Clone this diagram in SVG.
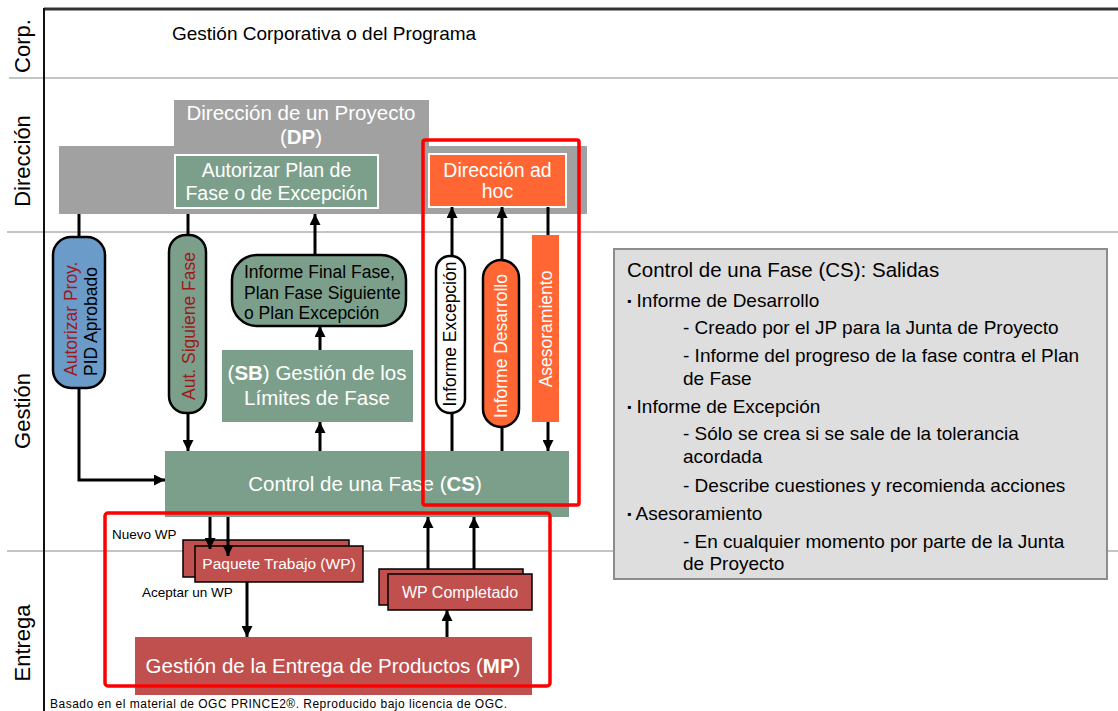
<svg xmlns="http://www.w3.org/2000/svg" width="1118" height="711" viewBox="0 0 1118 711">
<defs>
<marker id="ah" viewBox="0 0 10 10" refX="10" refY="5" markerWidth="11" markerHeight="11" markerUnits="userSpaceOnUse" orient="auto">
<path d="M0,0 L10,5 L0,10 z" fill="#000"/>
</marker>
<style>
text{font-family:"Liberation Sans",Arial,sans-serif}
.lane{font-size:22px;fill:#000}
.sep{stroke:#c4c4c4;stroke-width:2}
.green{fill:#7c9f8b}
.wt{fill:#fff}
.pill{stroke:#000;stroke-width:2.5}
.wp{fill:#c0504d;stroke:#000;stroke-width:1.5}
.con{fill:none;stroke:#000;stroke-width:3}
.arr{marker-end:url(#ah)}
.red{fill:none;stroke:#ff0000;stroke-width:3.5}
.rot{font-size:17.5px}
.dr{fill:#9b1b1b}
.rb{font-size:19px;fill:#000}
</style>
</defs>
<rect x="0" y="0" width="1118" height="711" fill="#fff"/>

<g id="frame">
<line class="sep" x1="9" y1="78" x2="1118" y2="78"/>
<line class="sep" x1="7" y1="232" x2="1118" y2="232"/>
<line class="sep" x1="7" y1="551" x2="1118" y2="551"/>
<line x1="44" y1="9" x2="1118" y2="9" stroke="#333" stroke-width="3"/>
<line x1="44" y1="8" x2="44" y2="711" stroke="#111" stroke-width="2"/>
<text class="lane" text-anchor="middle" transform="translate(30,46) rotate(-90)">Corp.</text>
<text class="lane" text-anchor="middle" transform="translate(30,161) rotate(-90)">Dirección</text>
<text class="lane" text-anchor="middle" transform="translate(30,411) rotate(-90)">Gestión</text>
<text class="lane" text-anchor="middle" transform="translate(30,643) rotate(-90)">Entrega</text>
<text x="172" y="40" font-size="19" fill="#000">Gestión Corporativa o del Programa</text>
</g>

<g id="DP">
<path d="M174,100 H429 V146 H587 V214 H59 V146 H174 Z" fill="#a1a1a1"/>
<text x="301" y="120" font-size="20.5" fill="#fff" text-anchor="middle">Dirección de un Proyecto</text>
<text x="301" y="144" font-size="20.5" fill="#fff" text-anchor="middle">(<tspan font-weight="bold">DP</tspan>)</text>
</g>

<g id="autorizar-plan">
<rect x="175" y="155" width="203" height="53" class="green" stroke="#fff" stroke-width="2"/>
<text x="276.5" y="177" font-size="19.5" class="wt" text-anchor="middle">Autorizar Plan de</text>
<text x="276.5" y="200" font-size="19.5" class="wt" text-anchor="middle">Fase o de Excepción</text>
</g>

<g id="adhoc">
<rect x="429" y="154" width="137" height="53" fill="#ff6633" stroke="#fff" stroke-width="2"/>
<text x="497.5" y="177" font-size="19.5" class="wt" text-anchor="middle">Dirección ad</text>
<text x="497.5" y="198" font-size="19.5" class="wt" text-anchor="middle">hoc</text>
</g>

<g id="autorizar-proy">
<rect x="53" y="237" width="52" height="151" rx="18" fill="#6a9bc9" class="pill"/>
<text class="rot dr" transform="translate(77,376) rotate(-90)">Autorizar Proy.</text>
<text class="rot" fill="#000" transform="translate(97,376) rotate(-90)">PID Aprobado</text>
</g>

<g id="aut-siguiente">
<rect x="169" y="235" width="37" height="178" rx="17" class="green pill"/>
<text class="rot dr" text-anchor="middle" transform="translate(195,326) rotate(-90)">Aut. Siguiene Fase</text>
</g>

<g id="informe-final">
<rect x="232" y="255" width="174" height="71" rx="25" class="green pill"/>
<text x="244" y="278" font-size="17.5" fill="#000">Informe Final Fase,</text>
<text x="244" y="299" font-size="17.5" fill="#000">Plan Fase Siguiente</text>
<text x="244" y="319" font-size="17.5" fill="#000">o Plan Excepción</text>
</g>

<g id="SB">
<rect x="222" y="350" width="191" height="72" class="green"/>
<text x="317" y="380" font-size="20.5" class="wt" text-anchor="middle">(<tspan font-weight="bold">SB</tspan>) Gestión de los</text>
<text x="317" y="405" font-size="20.5" class="wt" text-anchor="middle">Límites de Fase</text>
</g>

<g id="informe-excepcion">
<rect x="436" y="256" width="29" height="157" rx="14" fill="#fff" class="pill"/>
<text class="rot" fill="#000" text-anchor="middle" transform="translate(456,334) rotate(-90)">Informe Excepción</text>
</g>

<g id="informe-desarrollo">
<rect x="483" y="260" width="36" height="167" rx="18" fill="#ff6633" class="pill"/>
<text class="rot wt" text-anchor="middle" transform="translate(507,346) rotate(-90)">Informe Desarrollo</text>
</g>

<g id="asesoramiento">
<rect x="532" y="235" width="27" height="187" fill="#ff6633"/>
<text class="rot wt" text-anchor="middle" transform="translate(552,329) rotate(-90)">Asesoramiento</text>
</g>

<g id="CS">
<rect x="165" y="451" width="404" height="66" class="green"/>
<text x="365" y="491" font-size="20.5" class="wt" text-anchor="middle">Control de una Fase (<tspan font-weight="bold">CS</tspan>)</text>
</g>

<g id="paquete-trabajo">
<rect x="183" y="540" width="166" height="37" class="wp"/>
<rect x="195" y="546" width="168" height="36" class="wp"/>
<text x="279" y="569" font-size="15.5" class="wt" text-anchor="middle">Paquete Trabajo (WP)</text>
</g>

<g id="wp-completado">
<rect x="379" y="569" width="144" height="36" class="wp"/>
<rect x="388" y="574" width="144" height="36" class="wp"/>
<text x="460" y="598" font-size="16" class="wt" text-anchor="middle">WP Completado</text>
</g>

<g id="MP">
<rect x="135" y="637" width="397" height="58" fill="#c0504d"/>
<text x="333" y="673" font-size="20.5" class="wt" text-anchor="middle">Gestión de la Entrega de Productos (<tspan font-weight="bold">MP</tspan>)</text>
</g>

<g id="labels">
<text x="112" y="539" font-size="13.5" fill="#000">Nuevo WP</text>
<text x="142" y="597" font-size="13.5" fill="#000">Aceptar un WP</text>
<text x="50" y="708" font-size="12" fill="#000" textLength="457" lengthAdjust="spacing">Basado en el material de OGC PRINCE2®. Reproducido bajo licencia de OGC.</text>
</g>

<g id="connectors">
<path class="con" d="M79,214 V237"/>
<path class="con arr" d="M79,388 V480 H165"/>
<path class="con" d="M188,214 V235"/>
<path class="con arr" d="M188,413 V451"/>
<path class="con arr" d="M320,451 V422"/>
<path class="con arr" d="M320,350 V326"/>
<path class="con arr" d="M315,255 V214"/>
<path class="con" d="M452,451 V413"/>
<path class="con arr" d="M452,256 V207"/>
<path class="con" d="M502,451 V427"/>
<path class="con arr" d="M502,260 V207"/>
<path class="con" d="M548,207 V235"/>
<path class="con arr" d="M548,422 V451"/>
<path class="con arr" d="M210,517 V549"/>
<path class="con arr" d="M228,517 V556"/>
<path class="con arr" d="M247,582 V637"/>
<path class="con arr" d="M447,637 V610"/>
<path class="con arr" d="M428,569 V517"/>
<path class="con arr" d="M474,569 V517"/>
</g>

<g id="salidas">
<rect x="614" y="249" width="493" height="330" fill="#dedede" stroke="#8c8c8c" stroke-width="2"/>
<text x="627" y="277" font-size="20.5" fill="#000">Control de una Fase (CS): Salidas</text>
<text x="627" y="307" class="rb"><tspan font-size="12" dy="-2">▪</tspan><tspan dy="2"> Informe de Desarrollo</tspan></text>
<text x="683" y="334" class="rb">- Creado por el JP para la Junta de Proyecto</text>
<text x="683" y="362" class="rb">- Informe del progreso de la fase contra el Plan</text>
<text x="683" y="385" class="rb">de Fase</text>
<text x="627" y="413" class="rb"><tspan font-size="12" dy="-2">▪</tspan><tspan dy="2"> Informe de Excepción</tspan></text>
<text x="683" y="440" class="rb">- Sólo se crea si se sale de la tolerancia</text>
<text x="683" y="463" class="rb">acordada</text>
<text x="683" y="492" class="rb">- Describe cuestiones y recomienda acciones</text>
<text x="627" y="520" class="rb"><tspan font-size="12" dy="-2">▪</tspan><tspan dy="2"> Asesoramiento</tspan></text>
<text x="683" y="548" class="rb">- En cualquier momento por parte de la Junta</text>
<text x="683" y="570" class="rb">de Proyecto</text>
</g>

<g id="highlights">
<rect x="423" y="140" width="156" height="365" rx="2" class="red"/>
<rect x="105" y="513" width="445" height="173" rx="3" class="red"/>
</g>
</svg>
